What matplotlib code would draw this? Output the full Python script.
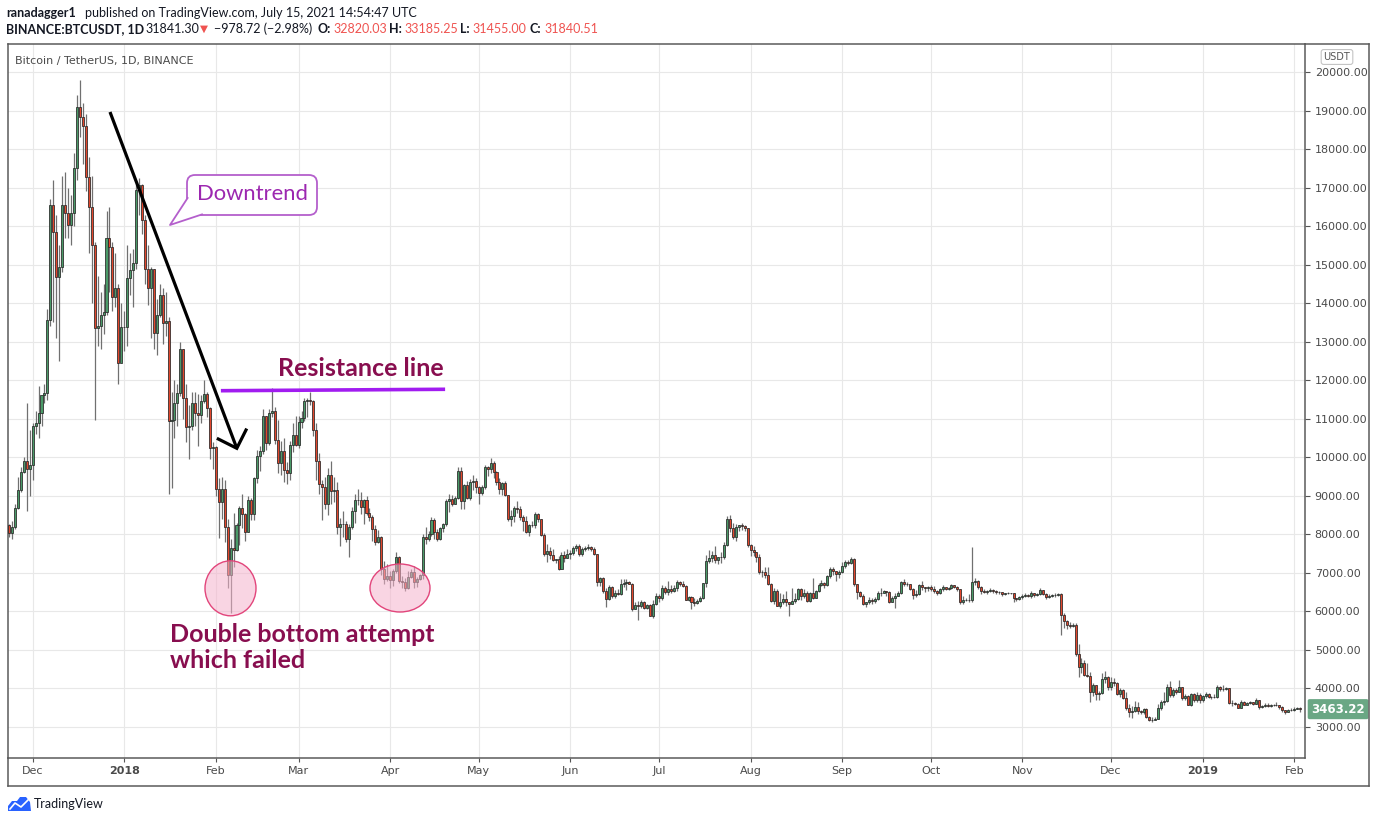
import matplotlib
matplotlib.use("Agg")
import matplotlib.pyplot as plt
import matplotlib.transforms as mtransforms
from matplotlib.patches import Ellipse, FancyBboxPatch, Polygon
from matplotlib.lines import Line2D
from matplotlib import font_manager
import numpy as np
import pandas as pd

W, H = 1376, 823

# daily BTCUSDT candles, 2017-11-23 .. 2019-02-03 (open = previous close)
start_date = "2017-11-23"
first_open = 8230

closes = [
    8040, 8200, 8680, 9150, 9630, 9900, 9690, 9800,  # Nov 17
    10800, 10880, 11140, 11620, 11680, 13560, 16550, 15860, 14690, 14950, 16550, 16330, 16030, 16330, 17500, 19080,
    18840, 18600, 17280, 16500, 15510, 13350, 13420, 13690, 13780, 15680, 15470, 14170, 14390, 12440, 13390,  # Dec 17
    13380, 14650, 14860, 15040, 16950, 17070, 16160, 14900, 14390, 14900, 13220, 13690, 14210, 13480, 13540, 10930,
    10970, 11420, 11660, 12800, 11530, 10780, 10820, 11400, 11160, 11100, 11470, 11650, 11270, 10230, 10270,  # Jan 18
    9180, 8850, 9180, 8200, 6950, 7640, 7590, 8230, 8690, 8530, 8070, 8900, 8540, 9460, 10030, 10170, 11060, 10380,
    11150, 11190, 10440, 9860, 10170, 9660, 9590, 10310, 10570, 10330,  # Feb 18
    10920, 11030, 11450, 11500, 11460, 10700, 9910, 9300, 9230, 8780, 9540, 9130, 9150, 8200, 8260, 8270, 7870, 8200,
    8600, 8900, 8880, 8720, 8900, 8550, 8450, 8130, 7800, 7940, 7090, 6850, 6930,  # Mar 18
    6810, 7050, 7420, 6790, 6770, 6620, 6900, 7020, 6770, 6830, 6940, 7920, 7890, 8000, 8360, 8050, 7890, 8160, 8280,
    8860, 8920, 8800, 8940, 9650, 8870, 9280, 8940, 9350, 9390, 9240,  # Apr 18
    9070, 9220, 9740, 9700, 9860, 9630, 9370, 9190, 9320, 9020, 8410, 8470, 8680, 8670, 8460, 8340, 8060, 8240, 8230,
    8530, 8390, 7990, 7500, 7580, 7460, 7340, 7350, 7110, 7470, 7380, 7490,  # May 18
    7520, 7640, 7710, 7490, 7620, 7650, 7680, 7620, 7500, 6770, 6880, 6540, 6310, 6640, 6400, 6490, 6450, 6710, 6740,
    6760, 6720, 6050, 6170, 6150, 6250, 6090, 6160, 5890, 6200, 6390,  # Jun 18
    6360, 6620, 6510, 6590, 6530, 6600, 6760, 6710, 6660, 6300, 6380, 6250, 6220, 6260, 6350, 6740, 7320, 7380, 7470,
    7330, 7400, 7400, 7720, 8400, 8170, 7930, 8180, 8230, 8220, 8170, 7730,  # Jul 18
    7600, 7530, 7410, 7010, 7030, 6940, 6720, 6280, 6540, 6150, 6240, 6320, 6250, 6190, 6270, 6310, 6580, 6390, 6490,
    6260, 6470, 6360, 6520, 6690, 6730, 6690, 6910, 7090, 7050, 6980, 7020,  # Aug 18
    7190, 7280, 7260, 7360, 6700, 6500, 6400, 6190, 6250, 6290, 6280, 6330, 6480, 6480, 6520, 6500, 6250, 6340, 6390,
    6490, 6760, 6720, 6700, 6590, 6430, 6460, 6680, 6630, 6600, 6630,  # Sep 18
    6590, 6530, 6480, 6570, 6630, 6590, 6620, 6680, 6640, 6570, 6240, 6290, 6290, 6290, 6770, 6800, 6640, 6530, 6500,
    6530, 6550, 6530, 6510, 6500, 6460, 6470, 6480, 6470, 6340, 6330, 6370,  # Oct 18
    6400, 6420, 6390, 6470, 6420, 6440, 6560, 6450, 6380, 6400, 6420, 6430, 6450, 5910, 5750, 5650, 5630, 5640, 4890,
    4570, 4650, 4350, 4320, 3920, 4090, 3850, 3880, 4240, 4310, 4030,  # Nov 18
    4180, 4140, 3860, 3950, 3760, 3500, 3400, 3410, 3530, 3420, 3380, 3470, 3260, 3190, 3190, 3210, 3500, 3660, 3680,
    4040, 3840, 3960, 3920, 4040, 3750, 3800, 3580, 3850, 3700, 3830, 3690,  # Dec 18
    3800, 3860, 3770, 3790, 3770, 4040, 3980, 3990, 4000, 3630, 3620, 3600, 3500, 3660, 3580, 3620, 3660, 3600, 3700,
    3530, 3540, 3580, 3550, 3580, 3560, 3560, 3530, 3430, 3390, 3450, 3440,  # Jan 19
    3470, 3500, 3463.22,  # Feb 19
]

highs = [
    8270, 8340, 8780, 9500, 9750, 10000, 11400, 10700,
    10900, 11200, 11850, 11600, 11900, 13850, 16700, 17200, 16300, 15500, 17300, 17400, 17000, 16800, 17900, 19400,
    19800, 19200, 18900, 17800, 17300, 15600, 14700, 14300, 14500, 16400, 16500, 15600, 15300, 14500, 14000,
    13800, 15500, 15300, 15400, 17100, 17250, 17100, 16300, 15500, 14950, 14900, 14100, 14500, 14400, 14300, 13650,
    11700, 12000, 11900, 13000, 12800, 11900, 11350, 11700, 11700, 11650, 11620, 12000, 11700, 11300, 10400,
    10300, 9450, 9500, 9400, 8400, 7880, 8560, 8300, 8740, 9050, 8550, 8990, 8950, 9500, 10200, 10300, 11250, 11080,
    11250, 11790, 11300, 10980, 10420, 10500, 9870, 10430, 10880, 11060,
    11080, 11200, 11530, 11550, 11700, 11490, 10880, 10100, 9420, 9480, 9730, 9900, 9480, 9370, 8420, 8600, 8350, 8280,
    8700, 9050, 9170, 9100, 8930, 9000, 8680, 8500, 8230, 8120, 7970, 7300, 7220,
    7050, 7100, 7530, 7450, 6930, 6860, 7060, 7110, 7180, 6900, 6970, 8020, 8200, 8100, 8440, 8420, 8150, 8190, 8300,
    8920, 9040, 9020, 9000, 9760, 9750, 9300, 9390, 9430, 9530, 9460,
    9250, 9270, 9800, 9770, 9990, 9900, 9650, 9450, 9370, 9380, 9030, 8620, 8740, 8870, 8730, 8500, 8480, 8270, 8350,
    8580, 8560, 8400, 8030, 7740, 7670, 7630, 7370, 7440, 7530, 7570, 7610,
    7600, 7700, 7750, 7740, 7680, 7700, 7750, 7700, 7680, 7500, 6900, 6900, 6620, 6690, 6670, 6550, 6590, 6840, 6850,
    6830, 6790, 6730, 6250, 6260, 6300, 6270, 6200, 6180, 6300, 6480,
    6440, 6680, 6670, 6790, 6690, 6680, 6820, 6780, 6800, 6680, 6400, 6390, 6340, 6320, 6400, 6750, 7460, 7590, 7570,
    7690, 7420, 7530, 7800, 8480, 8490, 8300, 8280, 8240, 8300, 8250, 8170,
    7760, 7700, 7550, 7500, 7080, 7160, 7150, 6730, 6620, 6580, 6480, 6460, 6540, 6250, 6620, 6480, 6600, 6610, 6580,
    6540, 6500, 6880, 6550, 6730, 6810, 6760, 6940, 7140, 7140, 7060, 7080,
    7280, 7340, 7340, 7400, 7390, 6700, 6540, 6450, 6250, 6370, 6350, 6370, 6530, 6600, 6560, 6540, 6540, 6410, 6490,
    6540, 6800, 6830, 6760, 6720, 6600, 6550, 6720, 6800, 6630, 6650,
    6680, 6650, 6560, 6600, 6680, 6620, 6630, 6700, 6690, 6650, 6570, 6400, 6340, 6450, 7680, 6860, 6810, 6650, 6570,
    6560, 6610, 6570, 6550, 6530, 6510, 6480, 6500, 6490, 6480, 6360, 6400,
    6440, 6480, 6440, 6520, 6480, 6470, 6600, 6550, 6470, 6440, 6460, 6470, 6480, 6480, 5960, 5780, 5720, 5700, 5690,
    5150, 4800, 4750, 4650, 4430, 4130, 4100, 3940, 4400, 4450, 4330,
    4300, 4260, 4160, 4010, 3980, 3900, 3600, 3550, 3670, 3660, 3450, 3500, 3490, 3280, 3250, 3270, 3590, 3690, 3900,
    4110, 4190, 4000, 4010, 4220, 4050, 3850, 3830, 3880, 3880, 3900, 3880,
    3840, 3900, 3870, 3810, 3860, 4090, 4070, 4100, 4030, 4020, 3690, 3640, 3610, 3700, 3680, 3650, 3680, 3660, 3760,
    3700, 3580, 3620, 3610, 3600, 3600, 3640, 3580, 3540, 3450, 3480, 3500,
    3520, 3520, 3510,
]

lows = [
    7940, 7870, 8140, 8660, 9100, 9600, 8600, 9000,
    9400, 10600, 10500, 10800, 11400, 11500, 13400, 13500, 13100, 12500, 14800, 15700, 15700, 15500, 16000, 17200,
    18300, 17600, 16900, 15300, 14000, 10960, 12900, 12800, 13200, 13700, 14300, 13800, 13900, 11900, 12600,
    12750, 12900, 14200, 13900, 14900, 16300, 15800, 14500, 13950, 13100, 12800, 12650, 13650, 12950, 13150, 9035,
    9200, 10500, 10800, 11600, 11000, 10400, 9950, 10700, 10800, 10300, 10900, 11400, 11050, 9950, 9700,
    9000, 7900, 8400, 7800, 6600, 5960, 7150, 7570, 7730, 8160, 7830, 8060, 8370, 8380, 9330, 9650, 10080, 10200,
    10310, 11050, 10350, 9600, 9550, 9350, 9300, 9400, 10150, 10300,
    10240, 10750, 10950, 11050, 11350, 10550, 9400, 9050, 8370, 8650, 8500, 8780, 8850, 8020, 7700, 7930, 7800, 7400,
    8150, 8300, 8750, 8520, 8260, 8500, 8350, 7830, 7730, 7770, 6950, 6700, 6780,
    6600, 6650, 7000, 6730, 6610, 6520, 6580, 6880, 6610, 6630, 6820, 6830, 7760, 7820, 7950, 7870, 7830, 7850, 8050,
    8220, 8590, 8730, 8790, 8920, 8670, 8650, 8920, 8880, 9160, 9070,
    8800, 9010, 9180, 9510, 9580, 9470, 9270, 9040, 9020, 9000, 8350, 8220, 8320, 8550, 8370, 8100, 8030, 7960, 8180,
    8170, 8320, 7950, 7430, 7280, 7350, 7300, 7260, 7070, 7090, 7290, 7380,
    7360, 7470, 7580, 7450, 7450, 7570, 7590, 7560, 7460, 6650, 6650, 6470, 6110, 6300, 6350, 6340, 6430, 6430, 6630,
    6560, 6700, 6000, 6050, 5790, 6100, 6060, 6050, 5880, 5820, 6160,
    6250, 6290, 6440, 6430, 6480, 6500, 6520, 6660, 6630, 6290, 6260, 6070, 6130, 6190, 6240, 6330, 6630, 7250, 7280,
    7250, 7230, 7260, 7370, 7690, 8060, 7870, 7830, 8090, 8110, 8080, 7680,
    7450, 7450, 7270, 6980, 6900, 6870, 6690, 6250, 6200, 6140, 6080, 6180, 6140, 5880, 6180, 6220, 6300, 6300, 6350,
    6250, 6240, 6320, 6360, 6500, 6650, 6610, 6650, 6870, 6950, 6790, 6880,
    7000, 7120, 7200, 7220, 6650, 6330, 6380, 6170, 6120, 6180, 6200, 6220, 6300, 6390, 6480, 6390, 6230, 6240, 6100,
    6390, 6450, 6660, 6650, 6560, 6320, 6380, 6430, 6550, 6510, 6540,
    6540, 6470, 6430, 6460, 6540, 6560, 6550, 6580, 6600, 6530, 6200, 6200, 6260, 6240, 6240, 6690, 6570, 6460, 6480,
    6460, 6500, 6480, 6450, 6460, 6410, 6430, 6450, 6440, 6240, 6270, 6300,
    6330, 6370, 6370, 6350, 6370, 6400, 6430, 6420, 6330, 6360, 6380, 6380, 6400, 5390, 5560, 5550, 5580, 5600, 4850,
    4300, 4400, 4320, 4290, 3650, 3800, 3700, 3690, 3850, 4150, 3960,
    3960, 4070, 3820, 3790, 3730, 3440, 3250, 3230, 3380, 3350, 3350, 3350, 3230, 3160, 3140, 3180, 3210, 3450, 3560,
    3640, 3790, 3790, 3850, 3920, 3710, 3710, 3560, 3540, 3650, 3650, 3630,
    3640, 3760, 3740, 3720, 3740, 3760, 3940, 3930, 3970, 3590, 3550, 3560, 3490, 3490, 3560, 3560, 3590, 3580, 3590,
    3480, 3500, 3530, 3520, 3530, 3540, 3540, 3480, 3380, 3350, 3380, 3420,
    3420, 3460, 3400,
]

price_ticks = list(range(3000, 20001, 1000))

assert len(closes) == len(highs) == len(lows), (len(closes), len(highs), len(lows))

dates = pd.date_range(start_date, periods=len(closes), freq="D")
opens = [first_open] + closes[:-1]
x = np.arange(len(closes))

names = {f.name for f in font_manager.fontManager.ttflist}
hdr_font = "Lato" if "Lato" in names else "DejaVu Sans"
note_font = "Lato" if "Lato" in names else "DejaVu Sans"

fig = plt.figure(figsize=(W / 100, H / 100), dpi=100)
fig.patch.set_facecolor("white")
ax = fig.add_axes([8 / W, (H - 758) / H, (1305 - 8) / W, (758 - 44) / H])
pix = mtransforms.Affine2D().scale(1, -1).translate(0, H)  # image pixel coords

# candles
o = np.array(opens, dtype=float)
c = np.array(closes, dtype=float)
up = c >= o
ax.vlines(x, lows, highs, color="#707070", lw=0.9, zorder=2)
ax.bar(x, np.abs(c - o), bottom=np.minimum(o, c), width=0.68,
       color=np.where(up, "#4a9a68", "#e2472d"), edgecolor="#262626",
       linewidth=0.55, zorder=3)

ax.set_xlim(-0.34, 438.65)
ax.set_ylim(2195.5, 20726.7)

month_idx = [i for i, d in enumerate(dates) if d.day == 1]
month_lbl = [str(dates[i].year) if dates[i].month == 1 else dates[i].strftime("%b") for i in month_idx]
ax.set_xticks(month_idx)
ax.set_xticklabels(month_lbl)
for t in ax.get_xticklabels():
    if t.get_text().isdigit():
        t.set_color("#2a2a2a")
        t.set_fontweight("bold")

ax.yaxis.tick_right()
ax.set_yticks(price_ticks)
ax.set_yticklabels([f"{v:.2f}" for v in price_ticks])
ax.tick_params(axis="y", length=3.5, width=0.8, color="#555555", pad=3.5,
               labelsize=8, labelcolor="#4a4a4a")
ax.tick_params(axis="x", length=3, width=0.8, color="#555555", pad=2.5,
               labelsize=8, labelcolor="#4a4a4a")
ax.grid(True, color="#e8e8e8", lw=0.8)
ax.set_axisbelow(True)
for s in ax.spines.values():
    s.set_color("#5b5b5b")
    s.set_linewidth(1.1)

# outer frame of the chart window
for xs, ys in [([1305, 1369], [44, 44]), ([1369, 1369], [44, 786]),
               ([8, 1369], [786, 786]), ([8, 8], [758, 786])]:
    fig.add_artist(Line2D(xs, ys, transform=pix, color="#5b5b5b", lw=1.1))

# last price tag
ax.annotate(f"{closes[-1]:.2f}", xy=(1, closes[-1]), xycoords=("axes fraction", "data"),
            xytext=(4.5, 0), textcoords="offset points", ha="left", va="center",
            fontsize=8.5, fontweight="bold", color="white", annotation_clip=False,
            bbox=dict(boxstyle="round,pad=0.3,rounding_size=0.15", fc="#6aa784", ec="none"))
fig.text(1337, 57, "USDT", transform=pix, ha="center", va="center", fontsize=7,
         color="#555555", bbox=dict(boxstyle="round,pad=0.25", fc="white", ec="#c4c4c4", lw=0.8))

# header
fig.text(6, 13, "ranadagger1", transform=pix, ha="left", va="center",
         fontsize=9, fontweight="bold", color="#131722", family=hdr_font)
fig.text(85, 13, "published on TradingView.com, July 15, 2021 14:54:47 UTC", transform=pix,
         ha="left", va="center", fontsize=9, color="#131722", family=hdr_font)
red = "#ef5350"
hdr2 = [(6, "BINANCE:BTCUSDT, 1D", "#131722", "bold"), (145, "31841.30", "#131722", "normal"),
        (317, "O:", "#131722", "bold"), (333, "32820.03", red, "normal"),
        (389, "H:", "#131722", "bold"), (404, "33185.25", red, "normal"),
        (460, "L:", "#131722", "bold"), (472, "31455.00", red, "normal"),
        (530, "C:", "#131722", "bold"), (544, "31840.51", red, "normal"),
        (214, "\u2212978.72 (\u22122.98%)", "#131722", "normal")]
for hx, s, col, wt in hdr2:
    fig.text(hx, 29, s, transform=pix, ha="left", va="center", fontsize=9,
             color=col, fontweight=wt, family=[hdr_font, "DejaVu Sans"])
fig.text(200, 29, "\u25bc", transform=pix, ha="left", va="center", fontsize=7.5,
         color=red, family="DejaVu Sans")
fig.text(15, 61, "Bitcoin / TetherUS, 1D, BINANCE", transform=pix, ha="left", va="center",
         fontsize=8, color="#4a4a4a")

# downtrend line with arrow head
fig.add_artist(Line2D([110, 236.8], [112, 448.3], transform=pix, color="black",
                      lw=2.3, solid_capstyle="butt"))
fig.add_artist(Line2D([218.3, 236.8, 246], [439, 448.3, 430], transform=pix, color="black",
                      lw=2.3, solid_joinstyle="miter"))

# callout
callout_ec = "#b45fcc"
fig.add_artist(FancyBboxPatch((187, 175), 130, 40, boxstyle="round,pad=0,rounding_size=8",
                              transform=pix, fc="white", ec=callout_ec, lw=1.3, zorder=4))
fig.add_artist(Polygon([(187.6, 198), (170, 225), (202, 214.4), (195, 205)], closed=True,
                       transform=pix, fc="white", ec="none", zorder=5))
fig.add_artist(Line2D([187.6, 170, 202], [198, 225, 214.4], transform=pix,
                      color=callout_ec, lw=1.3, zorder=6))
fig.text(252, 194, "Downtrend", transform=pix, ha="center", va="center", fontsize=15.8,
         color="#9c27b0", family=note_font, zorder=7)

# resistance line
fig.add_artist(Line2D([222.7, 443.3], [390.7, 389.3], transform=pix, color="#a11cf0", lw=2.6))
note_col = "#880e4f"
fig.text(361, 369, "Resistance line", transform=pix, ha="center", va="center", fontsize=18,
         color=note_col, fontweight="bold", family=note_font)

# double bottom circles
for (cx, cy, ew, eh) in [(230.5, 588.3, 51, 55), (400, 588, 60, 48)]:
    fig.add_artist(Ellipse((cx, cy), ew, eh, transform=pix, fc=(0.96, 0.70, 0.80, 0.55),
                           ec="#e2457b", lw=1.0))
fig.text(170, 635, "Double bottom attempt", transform=pix, ha="left", va="center",
         fontsize=18, color=note_col, fontweight="bold", family=note_font)
fig.text(170, 660, "which failed", transform=pix, ha="left", va="center",
         fontsize=18, color=note_col, fontweight="bold", family=note_font)

# TradingView logo
fig.add_artist(Polygon([(8, 811), (8, 806), (12, 801), (17, 801), (20, 797), (26, 797),
                        (30, 802), (31, 811)], closed=True, transform=pix, fc="#2962ff", ec="none"))
fig.add_artist(Line2D([10, 15, 21, 28], [809, 803, 807, 800], transform=pix, color="white", lw=1.2))
fig.text(34, 804, "TradingView", transform=pix, ha="left", va="center", fontsize=9,
         color="#131722", family=hdr_font)

fig.savefig("out.png", dpi=100)
